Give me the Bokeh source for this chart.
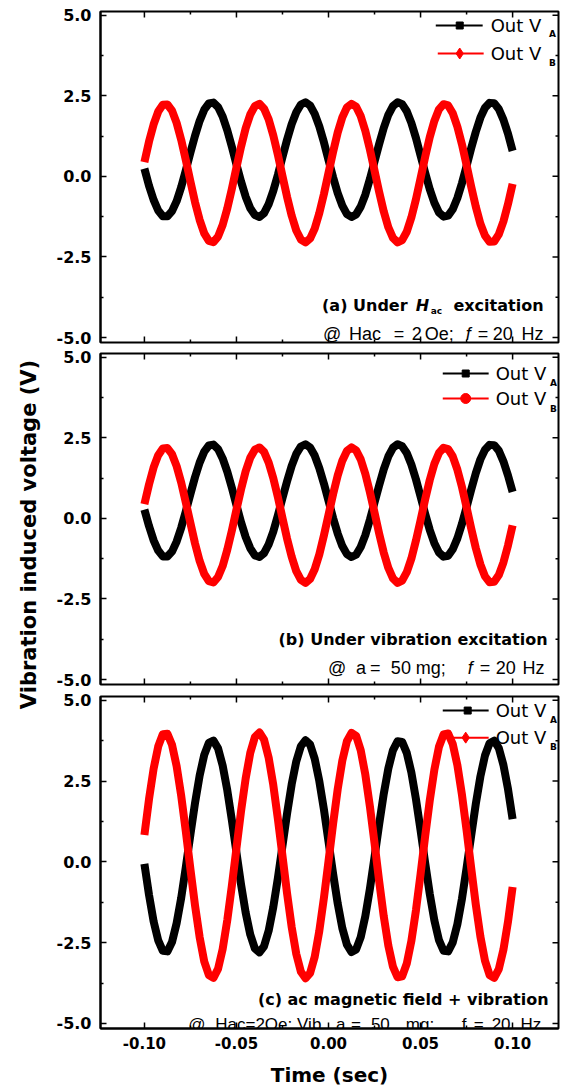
import numpy as np
from bokeh.plotting import figure
from bokeh.models import Range1d, FixedTicker
from bokeh.layouts import row, column
from bokeh.embed import file_html
from bokeh.resources import INLINE
from bokeh.core.properties import value

# ---------------- data ----------------
time_s = [-0.1000, -0.0975, -0.0950, -0.0925, -0.0900, -0.0875, -0.0850, -0.0825, -0.0800, -0.0775,
          -0.0750, -0.0725, -0.0700, -0.0675, -0.0650, -0.0625, -0.0600, -0.0575, -0.0550, -0.0525,
          -0.0500, -0.0475, -0.0450, -0.0425, -0.0400, -0.0375, -0.0350, -0.0325, -0.0300, -0.0275,
          -0.0250, -0.0225, -0.0200, -0.0175, -0.0150, -0.0125, -0.0100, -0.0075, -0.0050, -0.0025,
          0.0000, 0.0025, 0.0050, 0.0075, 0.0100, 0.0125, 0.0150, 0.0175, 0.0200, 0.0225,
          0.0250, 0.0275, 0.0300, 0.0325, 0.0350, 0.0375, 0.0400, 0.0425, 0.0450, 0.0475,
          0.0500, 0.0525, 0.0550, 0.0575, 0.0600, 0.0625, 0.0650, 0.0675, 0.0700, 0.0725,
          0.0750, 0.0775, 0.0800, 0.0825, 0.0850, 0.0875, 0.0900, 0.0925, 0.0950, 0.0975,
          0.1000]

a_out_VA = [0.24, -0.29, -0.73, -1.06, -1.24, -1.24, -1.08, -0.77, -0.33, 0.19,
            0.74, 1.26, 1.72, 2.07, 2.26, 2.29, 2.15, 1.86, 1.43, 0.92,
            0.37, -0.16, -0.63, -0.99, -1.20, -1.26, -1.14, -0.86, -0.45, 0.05,
            0.60, 1.14, 1.62, 1.99, 2.23, 2.30, 2.20, 1.94, 1.55, 1.06,
            0.51, -0.03, -0.52, -0.91, -1.17, -1.26, -1.18, -0.94, -0.57, -0.08,
            0.46, 1.00, 1.50, 1.91, 2.18, 2.30, 2.24, 2.02, 1.66, 1.19,
            0.65, 0.11, -0.40, -0.82, -1.12, -1.25, -1.22, -1.02, -0.67, -0.21,
            0.32, 0.87, 1.38, 1.82, 2.13, 2.28, 2.27, 2.09, 1.76, 1.32,
            0.79]
a_out_VB = [0.44, 1.08, 1.61, 2.01, 2.22, 2.23, 2.04, 1.66, 1.13, 0.50,
            -0.16, -0.80, -1.35, -1.77, -2.00, -2.04, -1.87, -1.51, -1.00, -0.39,
            0.28, 0.92, 1.49, 1.92, 2.18, 2.25, 2.10, 1.77, 1.27, 0.67,
            0.01, -0.64, -1.22, -1.68, -1.96, -2.05, -1.93, -1.62, -1.14, -0.55,
            0.11, 0.76, 1.36, 1.83, 2.14, 2.25, 2.16, 1.87, 1.41, 0.83,
            0.18, -0.48, -1.09, -1.58, -1.91, -2.05, -1.98, -1.72, -1.28, -0.71,
            -0.06, 0.60, 1.22, 1.72, 2.08, 2.24, 2.20, 1.96, 1.54, 0.99,
            0.35, -0.32, -0.94, -1.47, -1.84, -2.03, -2.02, -1.80, -1.40, -0.86,
            -0.23]

b_out_VA = [0.27, -0.24, -0.68, -1.00, -1.18, -1.18, -1.03, -0.72, -0.29, 0.22,
            0.76, 1.28, 1.73, 2.07, 2.26, 2.29, 2.15, 1.86, 1.45, 0.95,
            0.41, -0.12, -0.58, -0.93, -1.15, -1.20, -1.08, -0.81, -0.41, 0.09,
            0.63, 1.15, 1.63, 2.00, 2.23, 2.30, 2.20, 1.95, 1.56, 1.08,
            0.55, 0.01, -0.47, -0.86, -1.11, -1.20, -1.13, -0.89, -0.52, -0.04,
            0.49, 1.02, 1.52, 1.92, 2.19, 2.30, 2.24, 2.03, 1.67, 1.21,
            0.68, 0.14, -0.36, -0.77, -1.06, -1.19, -1.16, -0.96, -0.62, -0.17,
            0.35, 0.89, 1.40, 1.83, 2.13, 2.28, 2.27, 2.10, 1.77, 1.33,
            0.82]
b_out_VB = [0.44, 1.05, 1.58, 1.96, 2.17, 2.18, 1.99, 1.62, 1.11, 0.49,
            -0.15, -0.78, -1.32, -1.72, -1.95, -1.99, -1.82, -1.48, -0.98, -0.38,
            0.27, 0.90, 1.46, 1.88, 2.13, 2.20, 2.06, 1.73, 1.25, 0.66,
            0.01, -0.63, -1.19, -1.64, -1.91, -2.00, -1.88, -1.58, -1.12, -0.53,
            0.11, 0.75, 1.33, 1.79, 2.09, 2.20, 2.11, 1.83, 1.38, 0.81,
            0.18, -0.47, -1.06, -1.54, -1.86, -2.00, -1.93, -1.67, -1.25, -0.69,
            -0.06, 0.59, 1.19, 1.69, 2.03, 2.19, 2.15, 1.92, 1.51, 0.97,
            0.34, -0.31, -0.92, -1.43, -1.80, -1.98, -1.97, -1.76, -1.37, -0.84,
            -0.22]

c_out_VA = [-0.06, -1.02, -1.84, -2.43, -2.75, -2.77, -2.48, -1.90, -1.11, -0.16,
            0.85, 1.82, 2.67, 3.31, 3.68, 3.75, 3.51, 2.98, 2.22, 1.29,
            0.29, -0.70, -1.57, -2.25, -2.68, -2.80, -2.61, -2.13, -1.40, -0.50,
            0.50, 1.50, 2.40, 3.11, 3.58, 3.76, 3.63, 3.19, 2.50, 1.62,
            0.63, -0.37, -1.29, -2.05, -2.56, -2.79, -2.71, -2.33, -1.68, -0.83,
            0.15, 1.16, 2.10, 2.89, 3.45, 3.73, 3.71, 3.37, 2.77, 1.94,
            0.98, -0.03, -0.99, -1.81, -2.42, -2.75, -2.77, -2.49, -1.93, -1.14,
            -0.19, 0.81, 1.79, 2.64, 3.29, 3.67, 3.75, 3.52, 3.00, 2.25,
            1.32]
c_out_VB = [0.83, 1.94, 2.88, 3.57, 3.95, 3.96, 3.62, 2.96, 2.04, 0.94,
            -0.23, -1.35, -2.33, -3.08, -3.50, -3.59, -3.31, -2.70, -1.81, -0.74,
            0.42, 1.57, 2.58, 3.37, 3.86, 4.00, 3.78, 3.22, 2.38, 1.33,
            0.18, -0.98, -2.02, -2.85, -3.40, -3.60, -3.44, -2.94, -2.14, -1.12,
            0.02, 1.18, 2.25, 3.13, 3.73, 3.99, 3.90, 3.45, 2.70, 1.71,
            0.58, -0.59, -1.68, -2.59, -3.24, -3.57, -3.54, -3.15, -2.45, -1.50,
            -0.38, 0.79, 1.90, 2.85, 3.56, 3.94, 3.97, 3.64, 2.99, 2.07,
            0.98, -0.19, -1.32, -2.31, -3.06, -3.50, -3.59, -3.32, -2.72, -1.85,
            -0.78]

x_ticks = [-0.10, -0.05, 0.00, 0.05, 0.10]
x_tick_labels = ["-0.10", "-0.05", "0.00", "0.05", "0.10"]
x_minor = [-0.125, -0.075, -0.025, 0.025, 0.075, 0.125]
y_ticks = [-5.0, -2.5, 0.0, 2.5, 5.0]
y_tick_labels = ["-5.0", "-2.5", "0.0", "2.5", "5.0"]
y_minor = [-3.75, -1.25, 1.25, 3.75]

x_title = "Time (sec)"
y_title = "Vibration induced voltage (V)"

FONT = "DejaVu Sans"
FONT2 = "Liberation Sans"
BLACK = "#000000"
RED = "#ff0000"

X_LO, X_HI = -0.12385, 0.12493
Y_LO, Y_HI = -5.155, 5.115
PX_PER_X = 1845.0
PX_PER_Y = 32.23


def px_x(px):
    return -0.1 + (px - 143.0) / PX_PER_X


def px_y(py, top):
    return 5.0 - (py - top - 3.7) / PX_PER_Y


def txt(p, px, py, top, s, size, style="normal", align="left", baseline="alphabetic", font=FONT):
    p.text(x=[px_x(px)], y=[px_y(py, top)], text=[s], text_font=value(font),
           text_font_size=f"{size}px", text_font_style=style, text_align=align,
           text_baseline=baseline, text_color="black")


def words(p, top, py, pieces, size, font=FONT2):
    for px, s, style in pieces:
        txt(p, px, py, top, s, size, style=style, font=font)


def style_axis(ax, ticks, minor, labels, size, standoff):
    ax.ticker = FixedTicker(ticks=ticks, minor_ticks=minor)
    ax.axis_line_width = 2
    ax.axis_line_color = "black"
    ax.major_tick_in = 6
    ax.major_tick_out = 0
    ax.minor_tick_in = 3
    ax.minor_tick_out = 0
    ax.major_tick_line_width = 1.5
    ax.minor_tick_line_width = 1.5
    ax.major_label_overrides = {t: l for t, l in zip(ticks, labels)}
    ax.major_label_text_font = FONT
    ax.major_label_text_font_style = "bold"
    ax.major_label_text_font_size = size
    ax.major_label_text_color = "black"
    ax.major_label_standoff = standoff


def inner_ticks(p, sides):
    mx, nx = 6.0 / PX_PER_X, 3.0 / PX_PER_X
    my, ny = 6.0 / PX_PER_Y, 3.0 / PX_PER_Y
    xs_major = [t for t in x_ticks if X_LO < t < X_HI]
    xs_minor = [t for t in x_minor if X_LO < t < X_HI]
    for side in sides:
        if side in ("top", "bottom"):
            edge = Y_HI if side == "top" else Y_LO
            d = -1.0 if side == "top" else 1.0
            for ts, ln in ((xs_major, my), (xs_minor, ny)):
                p.segment(x0=ts, y0=[edge] * len(ts), x1=ts, y1=[edge + d * ln] * len(ts),
                          line_color="black", line_width=1.5)
        else:
            edge = X_HI
            for ts, ln in ((y_ticks, mx), (y_minor, nx)):
                p.segment(x0=[edge] * len(ts), y0=ts, x1=[edge - ln] * len(ts), y1=ts,
                          line_color="black", line_width=1.5)


def make_panel(height, b_top, b_bottom, show_x):
    p = figure(width=509, height=height, title=None,
               x_range=Range1d(X_LO, X_HI), y_range=Range1d(Y_LO, Y_HI),
               output_backend="svg", toolbar_location=None,
               min_border_left=46, min_border_right=4,
               min_border_top=b_top, min_border_bottom=b_bottom)
    p.grid.visible = False
    p.outline_line_color = "black"
    p.outline_line_width = 2
    style_axis(p.yaxis[0], y_ticks, y_minor, y_tick_labels, "16px", 9)
    if show_x:
        ax = p.xaxis[0]
        style_axis(ax, x_ticks, x_minor, x_tick_labels, "15px", 8)
        ax.axis_label = x_title
        ax.axis_label_text_font = FONT
        ax.axis_label_text_font_style = "bold"
        ax.axis_label_text_font_size = "20px"
        ax.axis_label_text_color = "black"
        ax.axis_label_standoff = 11
        inner_ticks(p, ["top", "right"])
    else:
        p.xaxis.visible = False
        inner_ticks(p, ["top", "right", "bottom"])
    return p


def legend(p, top, rows):
    for (x1, x2, y, xm, marker, color, msize, tx, sub, subx, suby) in rows:
        p.segment(x0=[px_x(x1)], y0=[px_y(y, top)], x1=[px_x(x2)], y1=[px_y(y, top)],
                  line_color=color, line_width=2)
        p.scatter(x=[px_x(xm)], y=[px_y(y, top)], marker=marker, size=msize,
                  fill_color=color, line_color=color)
        txt(p, tx, y, top, "Out V", 18, baseline="middle")
        txt(p, subx, suby, top, sub, 9, style="bold", align="center", baseline="middle")


def curves(p, va, vb):
    p.line(time_s, va, line_color=BLACK, line_width=8, line_join="round")
    p.line(time_s, vb, line_color=RED, line_width=8, line_join="round")


# ---------------- panel (a) ----------------
TA = 11
pa = make_panel(347, 11, 5, False)
legend(pa, TA, [
    (435, 482, 25, 459, "square", BLACK, 7, 490, "A", 552, 33),
    (437, 483, 53, 459, "diamond", RED, 11, 490, "B", 552, 62),
])
txt(pa, 321, 305, TA, "(a) Under", 16, style="bold")
txt(pa, 415, 305, TA, "H", 16, style="bold italic")
txt(pa, 430, 310, TA, "ac", 9, style="bold")
txt(pa, 543, 305, TA, "excitation", 16, style="bold", align="right")
words(pa, TA, 333, [(322, "@", "normal"), (348, "Hac", "normal"), (393, "=", "normal"),
                    (411, "2", "normal"), (424, "Oe;", "normal"), (465, "f", "italic"),
                    (477, "=", "normal"), (492, "20", "normal"), (521, "Hz", "normal")], 18)
curves(pa, a_out_VA, a_out_VB)

# ---------------- panel (b) ----------------
TB = 353
pb = make_panel(343, 6, 6, False)
legend(pb, TB, [
    (442, 488, 373, 465, "square", BLACK, 7, 495, "A", 553, 382),
    (442, 488, 398, 465, "circle", RED, 10, 495, "B", 553, 408),
])
txt(pb, 547, 639, TB, "(b) Under vibration excitation", 16, style="bold", align="right")
words(pb, TB, 667, [(327, "@", "normal"), (355, "a", "normal"), (369, "=", "normal"),
                    (390, "50", "normal"), (415, "mg;", "normal"), (467, "f", "italic"),
                    (479, "=", "normal"), (495, "20", "normal"), (522, "Hz", "normal")], 18)
curves(pb, b_out_VA, b_out_VB)

# ---------------- panel (c) ----------------
TC = 696
pc = make_panel(399, 6, 61, True)
legend(pc, TC, [
    (442, 488, 710, 467, "square", BLACK, 7, 495, "A", 553, 719),
    (442, 488, 737, 465, "diamond", RED, 11, 495, "B", 553, 746),
])
txt(pc, 548, 998, TC, "(c) ac magnetic field + vibration", 16, style="bold", align="right")
words(pc, TC, 1023, [(187, "@", "normal"), (214, "Hac=2Oe;", "normal"), (296, "Vib.", "normal"),
                     (335, "a", "normal"), (350, "=", "normal"), (370, "50", "normal"),
                     (405, "mg;", "normal"), (461, "f", "normal"), (473, "=", "normal"),
                     (491, "20", "normal"), (520, "Hz.", "normal")], 17)
curves(pc, c_out_VA, c_out_VB)

# ---------------- shared y title strip ----------------
strip = figure(width=53, height=1089, title=None, x_range=Range1d(0, 53),
               y_range=Range1d(0, 1089), output_backend="svg",
               toolbar_location=None, min_border=0)
strip.axis.visible = False
strip.grid.visible = False
strip.outline_line_color = None
strip.text(x=[28], y=[1089 - 534], text=[y_title], angle=np.pi / 2,
           text_align="center", text_baseline="middle", text_font=value(FONT),
           text_font_size="21px", text_font_style="bold", text_color="black")

layout = row(strip, column(pa, pb, pc))
open("out.html", "w").write(file_html(layout, INLINE))
